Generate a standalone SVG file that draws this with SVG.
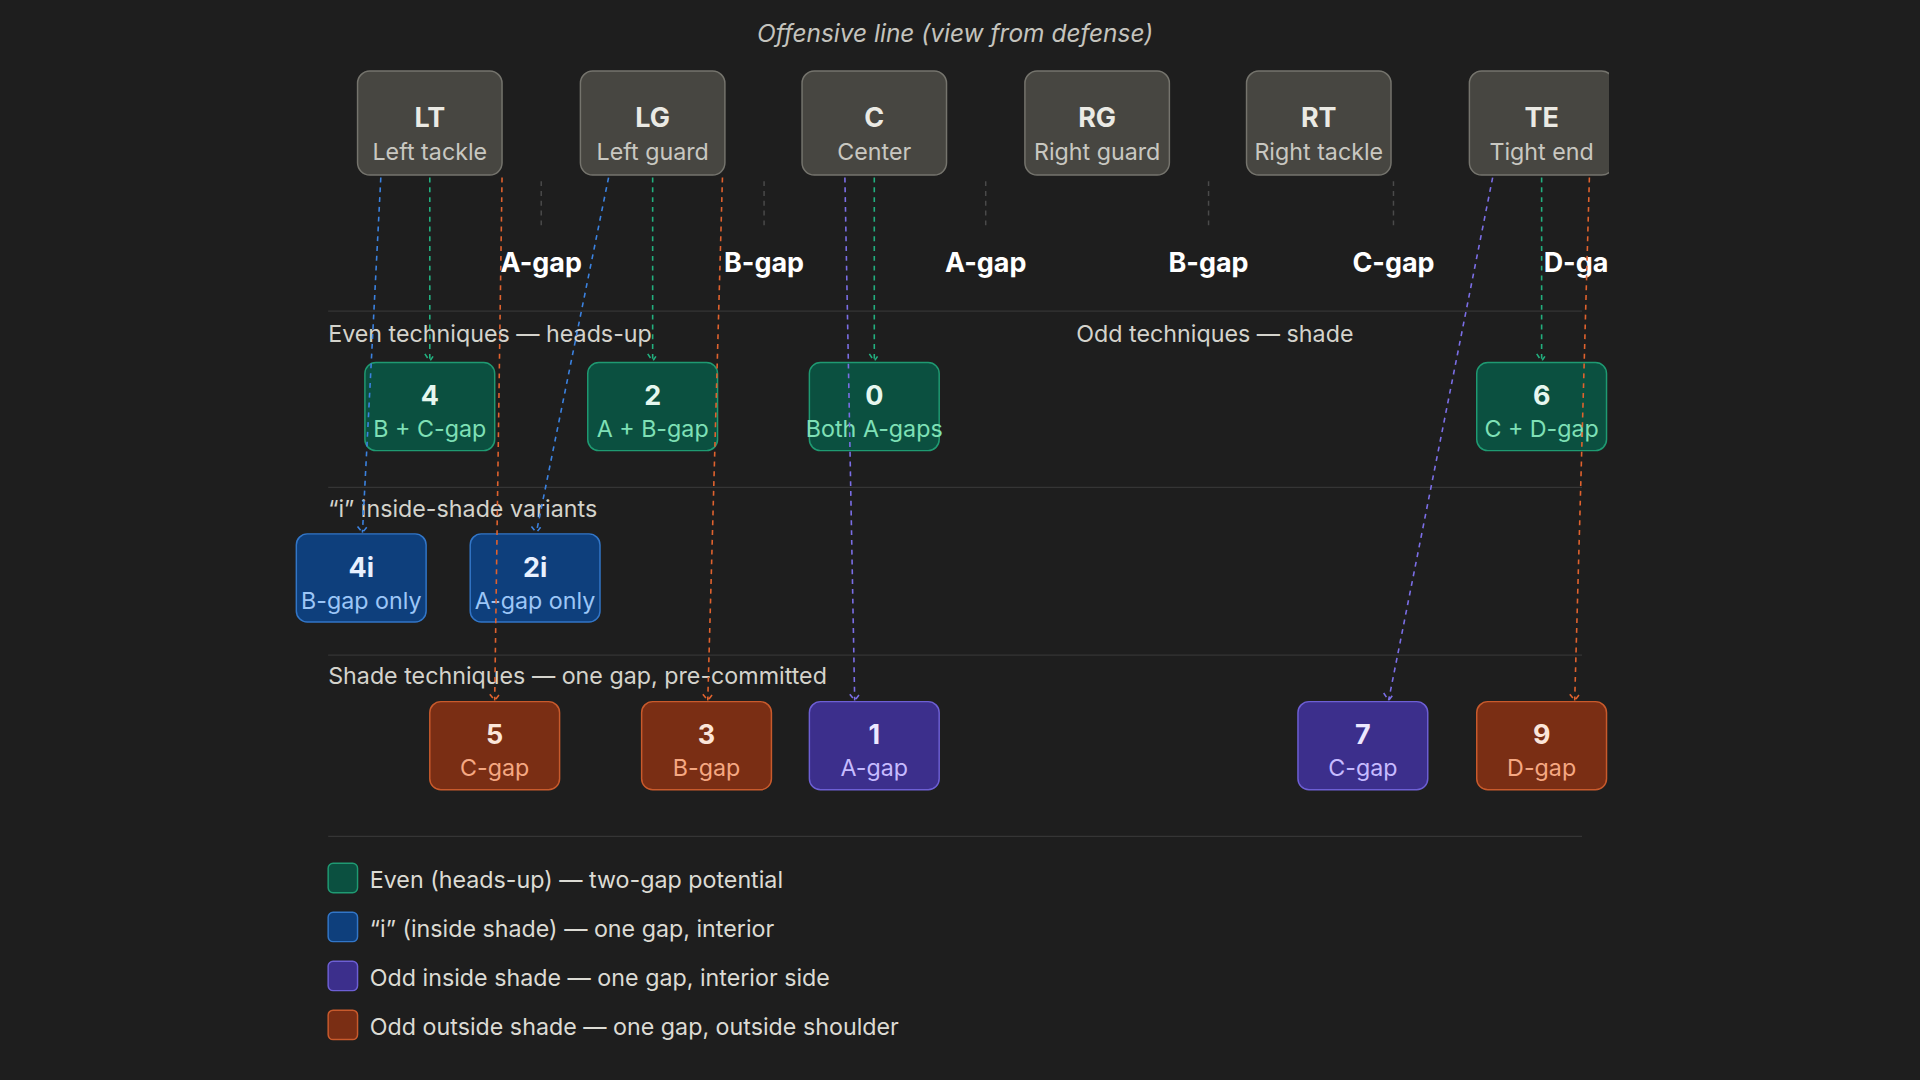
<svg xmlns="http://www.w3.org/2000/svg" width="1920" height="1080" viewBox="0 0 1920 1080">
<style>
text{font-family:Inter,"Noto Sans","Liberation Sans",sans-serif}
.ol{fill:#474641;stroke:#75746d;stroke-width:1.2}
.olt{fill:#ebeae4;font-size:22px;font-weight:700;text-anchor:middle}
.ols{fill:#c9c8c1;font-size:19px;text-anchor:middle}
.gap{fill:#fff;font-size:22px;font-weight:700;text-anchor:middle}
.tick{stroke:#4a4a4a;stroke-width:1.2;stroke-dasharray:4 4}
.sep{stroke:#353535;stroke-width:1}
.sec{fill:#d4d3cc;font-size:19px}
.ev{fill:#0b5040;stroke:#1f9a72;stroke-width:1.2}
.evt{fill:#e6f7ef}.evs{fill:#7fe0b6}
.bl{fill:#0e3f7c;stroke:#3276c8;stroke-width:1.2}
.blt{fill:#e8f1ff}.bls{fill:#9cc6f7}
.or{fill:#7a2e14;stroke:#c85a2c;stroke-width:1.2}
.ort{fill:#fbe6da}.ors{fill:#f5a882}
.pu{fill:#3c2f8c;stroke:#6d5fd4;stroke-width:1.2}
.put{fill:#ece8ff}.pus{fill:#c6bbff}
.n{font-size:22px;font-weight:700;text-anchor:middle}
.s{font-size:19px;text-anchor:middle}
.c{fill:none;stroke-width:1.3;stroke-dasharray:4 4}
.leg{fill:#dcdbd4;font-size:19px}
</style>
<defs>
<clipPath id="cl"><rect x="0" y="0" width="1314" height="882"/></clipPath>
<marker id="mg" markerWidth="10" markerHeight="8" refX="5" refY="6" orient="auto-start-reverse" markerUnits="userSpaceOnUse" viewBox="0 0 10 8"><path d="M1,1 L5,6 L9,1" fill="none" stroke="#22b07f" stroke-width="1.2" transform="rotate(0)"/></marker>
</defs>
<rect width="1920" height="1080" fill="#1e1e1e"/>
<g transform="scale(1.22449)">
<text x="780" y="34" fill="#c4c3bd" font-size="20" font-style="italic" text-anchor="middle">Offensive line (view from defense)</text>
<g clip-path="url(#cl)">
<g id="separators">
<line class="sep" x1="268" y1="254" x2="1292" y2="254"/>
<line class="sep" x1="268" y1="398" x2="1292" y2="398"/>
<line class="sep" x1="268" y1="535" x2="1292" y2="535"/>
<line class="sep" x1="268" y1="683" x2="1292" y2="683"/>
</g>
<g id="gaps">
<line class="tick" x1="442" y1="148" x2="442" y2="186"/><line class="tick" x1="624" y1="148" x2="624" y2="186"/><line class="tick" x1="805" y1="148" x2="805" y2="186"/><line class="tick" x1="987" y1="148" x2="987" y2="186"/><line class="tick" x1="1138" y1="148" x2="1138" y2="186"/>
<text class="gap" x="442" y="222">A-gap</text>
<text class="gap" x="624" y="222">B-gap</text>
<text class="gap" x="805" y="222">A-gap</text>
<text class="gap" x="987" y="222">B-gap</text>
<text class="gap" x="1138" y="222">C-gap</text>
<text class="gap" x="1294" y="222">D-gap</text>
</g>
<g id="LT"><rect class="ol" x="292" y="58" width="118" height="85" rx="10"/><text class="olt" x="351" y="104">LT</text><text class="ols" x="351" y="131">Left tackle</text></g>
<g id="LG"><rect class="ol" x="474" y="58" width="118" height="85" rx="10"/><text class="olt" x="533" y="104">LG</text><text class="ols" x="533" y="131">Left guard</text></g>
<g id="C"><rect class="ol" x="655" y="58" width="118" height="85" rx="10"/><text class="olt" x="714" y="104">C</text><text class="ols" x="714" y="131">Center</text></g>
<g id="RG"><rect class="ol" x="837" y="58" width="118" height="85" rx="10"/><text class="olt" x="896" y="104">RG</text><text class="ols" x="896" y="131">Right guard</text></g>
<g id="RT"><rect class="ol" x="1018" y="58" width="118" height="85" rx="10"/><text class="olt" x="1077" y="104">RT</text><text class="ols" x="1077" y="131">Right tackle</text></g>
<g id="TE"><rect class="ol" x="1200" y="58" width="118" height="85" rx="10"/><text class="olt" x="1259" y="104">TE</text><text class="ols" x="1259" y="131">Tight end</text></g>
<text class="sec" x="268" y="279">Even techniques — heads-up</text>
<text class="sec" x="879" y="279">Odd techniques — shade</text>
<text class="sec" x="268" y="422">“i” inside-shade variants</text>
<text class="sec" x="268" y="559">Shade techniques — one gap, pre-committed</text>
<g id="t4"><rect class="ev" x="298" y="296" width="106" height="72" rx="9"/><text class="n evt" x="351" y="331">4</text><text class="s evs" x="351" y="357">B + C-gap</text></g>
<g id="t2"><rect class="ev" x="480" y="296" width="106" height="72" rx="9"/><text class="n evt" x="533" y="331">2</text><text class="s evs" x="533" y="357">A + B-gap</text></g>
<g id="t0"><rect class="ev" x="661" y="296" width="106" height="72" rx="9"/><text class="n evt" x="714" y="331">0</text><text class="s evs" x="714" y="357">Both A-gaps</text></g>
<g id="t6"><rect class="ev" x="1206" y="296" width="106" height="72" rx="9"/><text class="n evt" x="1259" y="331">6</text><text class="s evs" x="1259" y="357">C + D-gap</text></g>
<g id="t4i"><rect class="bl" x="242" y="436" width="106" height="72" rx="9"/><text class="n blt" x="295" y="471">4i</text><text class="s bls" x="295" y="497">B-gap only</text></g>
<g id="t2i"><rect class="bl" x="384" y="436" width="106" height="72" rx="9"/><text class="n blt" x="437" y="471">2i</text><text class="s bls" x="437" y="497">A-gap only</text></g>
<g id="t5"><rect class="or" x="351" y="573" width="106" height="72" rx="9"/><text class="n ort" x="404" y="608">5</text><text class="s ors" x="404" y="634">C-gap</text></g>
<g id="t3"><rect class="or" x="524" y="573" width="106" height="72" rx="9"/><text class="n ort" x="577" y="608">3</text><text class="s ors" x="577" y="634">B-gap</text></g>
<g id="t1"><rect class="pu" x="661" y="573" width="106" height="72" rx="9"/><text class="n put" x="714" y="608">1</text><text class="s pus" x="714" y="634">A-gap</text></g>
<g id="t7"><rect class="pu" x="1060" y="573" width="106" height="72" rx="9"/><text class="n put" x="1113" y="608">7</text><text class="s pus" x="1113" y="634">C-gap</text></g>
<g id="t9"><rect class="or" x="1206" y="573" width="106" height="72" rx="9"/><text class="n ort" x="1259" y="608">9</text><text class="s ors" x="1259" y="634">D-gap</text></g>
<g id="connectors" class="c">
<path class="c" stroke="#3b82e0" d="M311,145 L296,435 M292,430 L296,435 L300,430"/>
<path class="c" stroke="#3b82e0" d="M497,145 L438,435 M434,430 L438,435 L442,430"/>
<path class="c" stroke="#22b07f" d="M351,145 L351,295 M347,289 L351,295 L355,289"/>
<path class="c" stroke="#22b07f" d="M533,145 L533,295 M529,289 L533,295 L537,289"/>
<path class="c" stroke="#22b07f" d="M714,145 L714,295 M710,289 L714,295 L718,289"/>
<path class="c" stroke="#22b07f" d="M1259,145 L1259,295 M1255,289 L1259,295 L1263,289"/>
<path class="c" stroke="#e0622e" d="M410,145 L404,572 M400,567 L404,572 L408,567"/>
<path class="c" stroke="#e0622e" d="M590,145 L578,572 M574,567 L578,572 L582,567"/>
<path class="c" stroke="#e0622e" d="M1298,145 L1286,572 M1282,567 L1286,572 L1290,567"/>
<path class="c" stroke="#7b6ee6" d="M690,145 L698,572 M694,567 L698,572 L702,567"/>
<path class="c" stroke="#7b6ee6" d="M1219,145 L1134,572 M1130,566 L1134,572 L1138,567"/>
</g>
</g>
<g id="legend">
<rect x="268" y="705" width="24" height="24" rx="4" class="ev"/><text class="leg" x="302" y="725">Even (heads-up) — two-gap potential</text>
<rect x="268" y="745" width="24" height="24" rx="4" class="bl"/><text class="leg" x="302" y="765">“i” (inside shade) — one gap, interior</text>
<rect x="268" y="785" width="24" height="24" rx="4" class="pu"/><text class="leg" x="302" y="805">Odd inside shade — one gap, interior side</text>
<rect x="268" y="825" width="24" height="24" rx="4" class="or"/><text class="leg" x="302" y="845">Odd outside shade — one gap, outside shoulder</text>
</g>
</g>
</svg>
